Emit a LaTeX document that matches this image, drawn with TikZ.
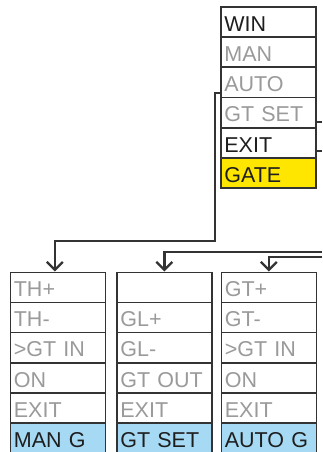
\documentclass[tikz,border=0pt]{standalone}
\usepackage{fontspec}
\setmainfont{Liberation Sans}
\usetikzlibrary{arrows.meta}
\definecolor{grytxt}{HTML}{9A9A9A}
\definecolor{blktxt}{HTML}{1E1E1E}
\definecolor{edgec}{HTML}{333333}
\definecolor{gateyel}{HTML}{FFE600}
\definecolor{selblue}{HTML}{A6DAF4}
\begin{document}
\begin{tikzpicture}[x=1pt,y=-1pt,
  cell/.style={draw=edgec, line width=1.7pt, fill=white, minimum width=95pt, minimum height=30.1pt,
    inner xsep=3.5pt, inner ysep=0pt, text width=88pt, align=left,
    text height=18.6pt, text depth=0pt, font=\fontsize{21.5}{24}\selectfont, anchor=north west},
  gry/.style={cell, text=grytxt},
  blk/.style={cell, text=blktxt},
  conn/.style={draw=edgec, line width=2.3pt},
  arr/.style={conn, -{Straight Barb[length=8pt,width=16pt]}}
]
\useasboundingbox (0,0) rectangle (322,452);

% top menu
\node[blk] (t1) at (220,6) {WIN};
\node[gry] (t2) at (220,36.2) {MAN};
\node[gry] (t3) at (220,66.4) {AUTO};
\node[gry] (t4) at (220,96.6) {GT SET};
\node[blk] (t5) at (220,126.8) {EXIT};
\node[blk, fill=gateyel] (t6) at (220,157) {GATE};

% box 1
\node[gry] (a1) at (9.5,271.5) {TH+};
\node[gry] (a2) at (9.5,301.6) {TH-};
\node[gry] (a3) at (9.5,331.7) {>GT IN};
\node[gry] (a4) at (9.5,361.8) {ON};
\node[gry] (a5) at (9.5,391.9) {EXIT};
\node[blk, fill=selblue] (a6) at (9.5,422) {MAN G};

% box 2
\node[gry] (b1) at (116,271.5) {};
\node[gry] (b2) at (116,301.6) {GL+};
\node[gry] (b3) at (116,331.7) {GL-};
\node[gry] (b4) at (116,361.8) {GT OUT};
\node[gry] (b5) at (116,391.9) {EXIT};
\node[blk, fill=selblue] (b6) at (116,422) {GT SET};

% box 3
\node[gry] (c1) at (220.5,271.5) {GT+};
\node[gry] (c2) at (220.5,301.6) {GT-};
\node[gry] (c3) at (220.5,331.7) {>GT IN};
\node[gry] (c4) at (220.5,361.8) {ON};
\node[gry] (c5) at (220.5,391.9) {EXIT};
\node[blk, fill=selblue] (c6) at (220.5,422) {AUTO G};

% connectors
\coordinate (k1) at (215,240.7);
\draw[arr] ([yshift=-11pt]t3.west) -| (k1) -| ([xshift=-3pt]a1.north);

\coordinate (e1) at (322,122);
\coordinate (e2) at (322,150.7);
\draw[conn] (t4.east |- e1) -- (e1);
\draw[conn] (t5.east |- e2) -- (e2);

\coordinate (f1) at (322,251.7);
\coordinate (f2) at (322,257.3);
\draw[arr] (f1) -| (b1.north);
\draw[arr] (f2) -| (c1.north);
\end{tikzpicture}
\end{document}
